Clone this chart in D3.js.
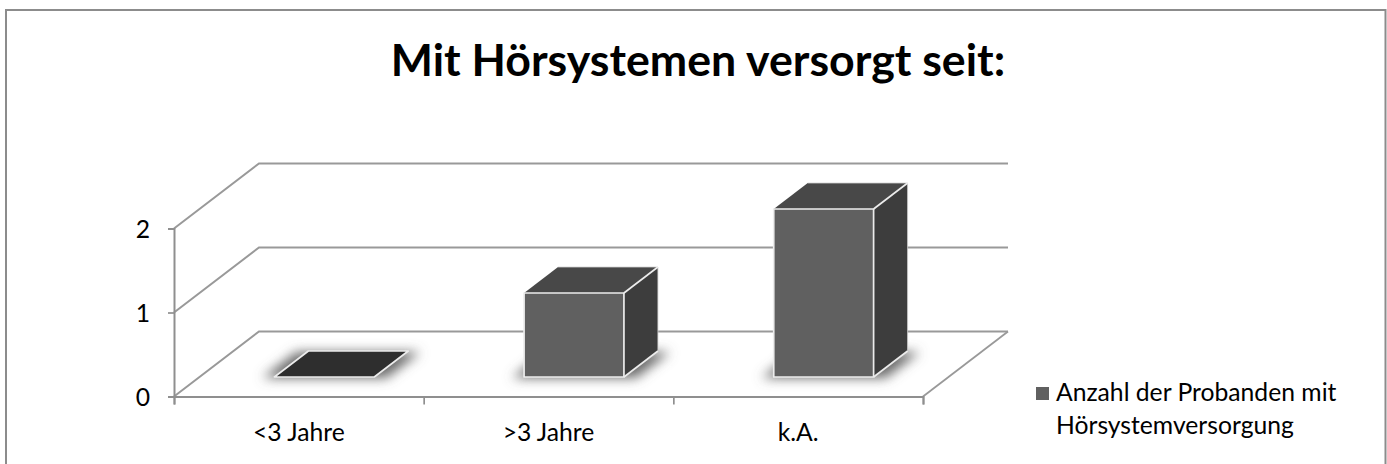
<!DOCTYPE html>
<html>
<head>
<meta charset="utf-8">
<script src="https://cdn.jsdelivr.net/npm/d3@7"></script>
<style>
  html, body { margin: 0; padding: 0; background: #fff; }
  svg { display: block; }
  text { font-family: Lato, "Open Sans", sans-serif; fill: #000; }
</style>
</head>
<body>
<div id="chart"></div>
<script>
// Data
const categories = ['<3 Jahre', '>3 Jahre', 'k.A.'];
const values = [0, 1, 2];
const yTicks = [0, 1, 2];
const titleText = 'Mit Hörsystemen versorgt seit:';
const legendLines = ['Anzahl der Probanden mit', 'Hörsystemversorgung'];

const width = 1387;
const height = 464;
const labelSize = 24.7;

// Plot box of the pseudo 3D chart
const plot = { left: 174, right: 923, bottom: 396.5, top: 228.5, depthX: 85, depthY: -65 };

const svg = d3.select('#chart')
  .append('svg')
  .attr('width', width)
  .attr('height', height);

const defs = svg.append('defs');
defs.append('filter').attr('id', 'soft')
  .attr('x', '-20%').attr('y', '-60%').attr('width', '140%').attr('height', '220%')
  .append('feGaussianBlur').attr('stdDeviation', 6);
defs.append('filter').attr('id', 'aa')
  .attr('filterUnits', 'userSpaceOnUse')
  .attr('x', 0).attr('y', 0).attr('width', width).attr('height', height)
  .append('feGaussianBlur').attr('stdDeviation', 0.4);

const x = d3.scaleBand()
  .domain(categories)
  .range([plot.left, plot.right])
  .paddingInner(0.6)
  .paddingOuter(0.3);

const y = d3.scaleLinear()
  .domain([0, 2])
  .range([plot.bottom, plot.top]);

const edges = d3.scaleLinear()
  .domain([0, categories.length])
  .range([plot.left, plot.right]);

// Projects (x pixel, y pixel, depth 0..1) onto the sheared plane
const proj = (px, py, d) => [px + d * plot.depthX, py + d * plot.depthY];
const poly = pts => 'M' + pts.map(p => p.join(',')).join('L') + 'Z';

// Frame (runs off the bottom of the picture)
svg.append('path')
  .attr('d', `M6,${height}V10H1385.5V${height}`)
  .attr('fill', 'none')
  .attr('stroke', '#8c8c8c')
  .attr('stroke-width', 2);

// Title
svg.append('text')
  .attr('x', 698)
  .attr('y', 76)
  .attr('text-anchor', 'middle')
  .attr('font-size', 44.7)
  .attr('font-weight', 700)
  .text(titleText);

// Walls and gridlines
const gridG = svg.append('g').attr('filter', 'url(#aa)');
yTicks.forEach(t => {
  const a = [plot.left, y(t)];
  const b = proj(plot.left, y(t), 1);
  const c = proj(plot.right, y(t), 1);
  gridG.append('path')
    .attr('d', `M${a}L${b}L${c}`)
    .attr('fill', 'none')
    .attr('stroke', '#999')
    .attr('stroke-width', 2);
});
// Right floor edge
gridG.append('path')
  .attr('d', `M${[plot.right, plot.bottom]}L${proj(plot.right, plot.bottom, 1)}`)
  .attr('fill', 'none')
  .attr('stroke', '#999')
  .attr('stroke-width', 1.8);

// Axes
const yAxis = d3.axisLeft(y)
  .tickValues(yTicks)
  .tickFormat(d3.format('d'))
  .tickSize(6)
  .tickPadding(18);
const xAxis = d3.axisBottom(edges)
  .ticks(categories.length)
  .tickFormat('')
  .tickSize(8);

const yG = svg.append('g')
  .attr('transform', `translate(${plot.left},0)`)
  .call(yAxis);
const xG = svg.append('g')
  .attr('transform', `translate(0,${plot.bottom})`)
  .call(xAxis);

[yG, xG].forEach(g => {
  g.select('.domain').attr('stroke', '#8f8f8f').attr('stroke-width', 2);
  g.selectAll('.tick line').attr('stroke', '#8f8f8f').attr('stroke-width', 1.7);
});
yG.selectAll('.tick text')
  .attr('font-size', labelSize)
  .attr('dy', '0.36em')
  .style('font-family', 'Lato, sans-serif');

// Category labels
svg.append('g').selectAll('text')
  .data(categories)
  .join('text')
  .attr('x', d => x(d) + x.bandwidth() / 2)
  .attr('y', 441)
  .attr('text-anchor', 'middle')
  .attr('font-size', labelSize)
  .text(d => d);

// Bars sit between 30% and 70% of the floor depth
const d0 = 0.3;
const d1 = 0.7;

const barG = svg.append('g');

// Blurred floor shadows first
barG.selectAll('path.shadow')
  .data(categories)
  .join('path')
  .attr('class', 'shadow')
  .attr('d', d => {
    const l = x(d) - 12;
    const r = x(d) + x.bandwidth() + 12;
    return poly([
      proj(l, plot.bottom + 1, d0),
      proj(r, plot.bottom + 1, d0),
      proj(r, plot.bottom + 1, d1),
      proj(l, plot.bottom + 1, d1)
    ]);
  })
  .attr('fill', '#6a6a6a')
  .attr('filter', 'url(#soft)');

categories.forEach((c, i) => {
  const v = values[i];
  const l = x(c);
  const r = l + x.bandwidth();
  const yv = y(v);
  const g = barG.append('g')
    .attr('stroke', '#ececec')
    .attr('stroke-width', 1.7)
    .attr('stroke-linejoin', 'round');

  if (v === 0) {
    // Empty bar collapses to a flat dark plate
    g.append('path')
      .attr('d', poly([proj(l, yv, d0), proj(r, yv, d0), proj(r, yv, d1), proj(l, yv, d1)]))
      .attr('fill', '#2e2e2e');
    return;
  }

  // Side
  g.append('path')
    .attr('d', poly([proj(r, plot.bottom, d0), proj(r, yv, d0), proj(r, yv, d1), proj(r, plot.bottom, d1)]))
    .attr('fill', '#3d3d3d')
    .attr('stroke', 'none');
  // Top
  g.append('path')
    .attr('d', poly([proj(l, yv, d0), proj(r, yv, d0), proj(r, yv, d1), proj(l, yv, d1)]))
    .attr('fill', '#484848')
    .attr('stroke', 'none');
  // Top back edges, thin and pale
  g.append('path')
    .attr('d', `M${proj(l, yv, d1)}L${proj(r, yv, d1)}L${proj(r, plot.bottom, d1)}`)
    .attr('fill', 'none')
    .attr('stroke', '#d0d0d0')
    .attr('stroke-width', 0.8);
  // Front
  g.append('path')
    .attr('d', poly([proj(l, plot.bottom, d0), proj(l, yv, d0), proj(r, yv, d0), proj(r, plot.bottom, d0)]))
    .attr('fill', '#606060');
  // Edge from the front corner to the back corner
  g.append('path')
    .attr('d', `M${proj(r, yv, d0)}L${proj(r, yv, d1)}`)
    .attr('fill', 'none');
  g.append('path')
    .attr('d', `M${proj(r, plot.bottom, d0)}L${proj(r, plot.bottom, d1)}`)
    .attr('fill', 'none');
});

// Legend
const legend = svg.append('g');
legend.append('rect')
  .attr('x', 1036)
  .attr('y', 387)
  .attr('width', 13)
  .attr('height', 13)
  .attr('fill', '#606060');
legend.selectAll('text')
  .data(legendLines)
  .join('text')
  .attr('x', 1056)
  .attr('y', (d, i) => 401 + i * 32.5)
  .attr('font-size', labelSize)
  .text(d => d);
</script>
</body>
</html>
